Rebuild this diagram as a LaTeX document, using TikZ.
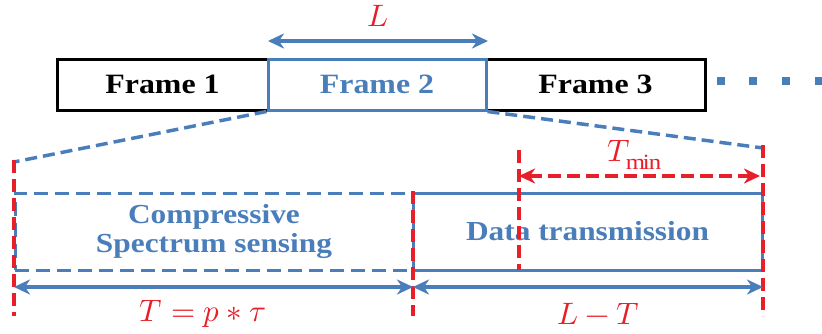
\documentclass[tikz,border=0pt]{standalone}
\usepackage{fontspec}
\setmainfont{Liberation Serif}[FakeStretch=1.14]
\usepackage{unicode-math}
\usetikzlibrary{arrows.meta}
\definecolor{cblue}{RGB}{74,126,187}
\definecolor{cred}{RGB}{232,30,40}
\tikzset{
  framebox/.style={draw=black,line width=3pt,minimum height=51pt,inner sep=0pt,font=\fontsize{28}{30}\selectfont\bfseries},
  bluebox/.style={draw=cblue,line width=3pt,minimum height=77pt,inner sep=0pt,text=cblue,align=center,font=\fontsize{27.5}{29}\selectfont\bfseries},
  bluedash/.style={draw=cblue,line width=3.5pt,dash pattern=on 12pt off 6pt},
  reddash/.style={draw=cred,line width=3.5pt,dash pattern=on 13pt off 6pt},
  bluearrow/.style={draw=cblue,line width=4pt,{Stealth[length=16pt,width=15pt,inset=5pt]}-{Stealth[length=16pt,width=15pt,inset=5pt]}},
  redarrow/.style={draw=cred,line width=3.5pt,dash pattern=on 13pt off 6pt,{Stealth[length=16pt,width=15pt,inset=5pt]}-{Stealth[length=16pt,width=15pt,inset=5pt]}},
  dotsq/.style={fill=cblue,minimum size=8pt,inner sep=0pt},
  redlabel/.style={text=cred,font=\fontsize{31}{33}\selectfont},
}
\begin{document}
\begin{tikzpicture}[x=1pt,y=-1pt]
\useasboundingbox (0,0) rectangle (822,333);
% frames
\node[framebox,minimum width=211pt] (f1) at (162.5,84.5) {Frame 1};
\node[framebox,minimum width=219pt] (f3) at (595.5,84.5) {Frame 3};
\node[framebox,draw=cblue,text=cblue,minimum width=218pt] (f2) at (377,84.5) {Frame 2};
% dots
\node[dotsq] (d1) at (721,81) {};
\node[dotsq] (d2) at (753,81) {};
\node[dotsq] (d3) at (786,81) {};
\node[dotsq] (d4) at (819,81) {};
% L arrow
\coordinate (la) at (268,41);
\coordinate (lb) at (488,41);
\draw[bluearrow] (la) -- (lb);
\node[redlabel] (Llab) at (378,16) {$L$};
% zoom lines
\coordinate (zl) at (14,162);
\coordinate (zr) at (763,148);
\draw[bluedash] (f2.south west) -- (zl);
\draw[bluedash] (f2.south east) -- (zr);
% lower boxes
\node[bluebox,dash pattern=on 14pt off 7pt,minimum width=398pt] (cs) at (214,231.5) {Compressive\\Spectrum sensing};
\node[bluebox,minimum width=349pt] (dt) at (587.5,231.5) {Data transmission};
% red verticals
\coordinate (v1a) at (14,160); \coordinate (v1b) at (14,316);
\coordinate (v2a) at (413,191); \coordinate (v2b) at (413,316);
\coordinate (v3a) at (763,145); \coordinate (v3b) at (763,316);
\coordinate (v4a) at (519,150); \coordinate (v4b) at (519,270);
\draw[reddash] (v1a) -- (v1b);
\draw[reddash] (v2a) -- (v2b);
\draw[reddash] (v3a) -- (v3b);
\draw[reddash] (v4a) -- (v4b);
% Tmin arrow
\coordinate (ta) at (519,176);
\coordinate (tb) at (760,176);
\draw[redarrow] (ta) -- (tb);
\node[redlabel] (tminlab) at (634,155) {$T_{\mathrm{min}}$};
% bottom arrows
\coordinate (ba) at (14,287);
\coordinate (bm) at (413,287);
\coordinate (bb) at (763,287);
\draw[bluearrow] (ba) -- (bm);
\draw[bluearrow] (bm) -- (bb);
\node[redlabel] (tlab) at (203,314) {$T=p\ast\tau$};
\node[redlabel] (ltlab) at (598,314) {$L-T$};
\end{tikzpicture}
\end{document}
